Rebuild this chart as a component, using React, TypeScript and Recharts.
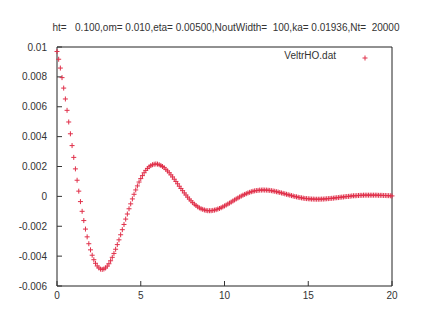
import React from 'react'
import { ScatterChart, Scatter, XAxis, YAxis, ReferenceArea } from 'recharts'

// velocity trace, one sample every 0.1 time units from t = 0 to t = 20
const xStep = 0.1
const velocity = [
  0.00970, 0.00918, 0.00859, 0.00795, 0.00725, 0.00652, 0.00576, 0.00498, 0.00419, 0.00340,
  0.00261, 0.00184, 0.00108, 0.00035, -0.00035, -0.00100, -0.00162, -0.00219, -0.00271, -0.00317,
  -0.00358, -0.00394, -0.00424, -0.00448, -0.00466, -0.00479, -0.00487, -0.00489, -0.00486, -0.00479,
  -0.00467, -0.00451, -0.00431, -0.00408, -0.00382, -0.00354, -0.00323, -0.00291, -0.00257, -0.00223,
  -0.00188, -0.00152, -0.00118, -0.00083, -0.00050, -0.00017, 0.00014, 0.00043, 0.00070, 0.00096,
  0.00119, 0.00139, 0.00158, 0.00174, 0.00187, 0.00198, 0.00206, 0.00212, 0.00215, 0.00217,
  0.00216, 0.00212, 0.00207, 0.00200, 0.00192, 0.00181, 0.00170, 0.00158, 0.00144, 0.00130,
  0.00115, 0.00100, 0.00084, 0.00068, 0.00053, 0.00038, 0.00023, 0.00009, -0.00005, -0.00018,
  -0.00030, -0.00042, -0.00052, -0.00061, -0.00070, -0.00077, -0.00083, -0.00087, -0.00091, -0.00094,
  -0.00096, -0.00096, -0.00096, -0.00094, -0.00092, -0.00089, -0.00085, -0.00081, -0.00076, -0.00070,
  -0.00064, -0.00058, -0.00051, -0.00045, -0.00038, -0.00031, -0.00024, -0.00017, -0.00011, -0.00004,
  0.00002, 0.00008, 0.00013, 0.00018, 0.00023, 0.00027, 0.00031, 0.00034, 0.00037, 0.00039,
  0.00040, 0.00042, 0.00042, 0.00043, 0.00042, 0.00042, 0.00041, 0.00040, 0.00038, 0.00036,
  0.00034, 0.00031, 0.00029, 0.00026, 0.00023, 0.00020, 0.00017, 0.00014, 0.00011, 0.00008,
  0.00005, 0.00002, -0.00001, -0.00003, -0.00006, -0.00008, -0.00010, -0.00012, -0.00014, -0.00015,
  -0.00016, -0.00017, -0.00018, -0.00018, -0.00019, -0.00019, -0.00019, -0.00019, -0.00018, -0.00018,
  -0.00017, -0.00016, -0.00015, -0.00014, -0.00013, -0.00012, -0.00010, -0.00009, -0.00008, -0.00006,
  -0.00005, -0.00004, -0.00002, -0.00001, 0.00000, 0.00001, 0.00003, 0.00004, 0.00004, 0.00005,
  0.00006, 0.00007, 0.00007, 0.00008, 0.00008, 0.00008, 0.00008, 0.00008, 0.00008, 0.00008,
  0.00008, 0.00008, 0.00007, 0.00007, 0.00007, 0.00006, 0.00006, 0.00005, 0.00005, 0.00004,
  0.00003,
]

const xTicks = [0, 5, 10, 15, 20]
const yTicks = [-0.006, -0.004, -0.002, 0, 0.002, 0.004, 0.006, 0.008, 0.01]
const seriesName = 'VeltrHO.dat'
const title = 'ht=   0.100,om= 0.010,eta= 0.00500,NoutWidth=  100,ka= 0.01936,Nt=  20000'

const data = velocity.map((v, i) => ({ t: Math.round(i * xStep * 10) / 10, v }))

const RED = '#e0304a'
const INK = '#333'
const font = 'Liberation Sans, Arial, sans-serif'

const Cross = (props: any) => {
  const { cx, cy } = props
  if (cx == null || cy == null) return null
  return <path d={`M${cx - 2.5},${cy}h5M${cx},${cy - 2.5}v5`} stroke={RED} strokeWidth={1} fill="none" />
}

const tickStyle = { fill: INK, fontSize: 10, fontFamily: font }
const blank = () => ''

export default function App() {
  return (
    <div style={{ position: 'absolute', left: 0, top: 0, width: 436, height: 327, background: '#fff' }}>
      <ScatterChart width={436} height={327} margin={{ top: 47, right: 44, bottom: 0, left: 0 }}>
        <XAxis
          xAxisId="b"
          type="number"
          dataKey="t"
          domain={[0, 20]}
          ticks={xTicks}
          height={41}
          tick={tickStyle}
          tickSize={-5}
          tickMargin={11}
          axisLine={false}
          tickLine={{ stroke: INK }}
        />
        <XAxis
          xAxisId="t"
          orientation="top"
          type="number"
          domain={[0, 20]}
          ticks={xTicks}
          height={0}
          tickFormatter={blank}
          tickSize={-5}
          axisLine={false}
          tickLine={{ stroke: INK }}
        />
        <YAxis
          yAxisId="l"
          type="number"
          dataKey="v"
          domain={[-0.006, 0.01]}
          ticks={yTicks}
          width={57}
          tick={tickStyle}
          tickSize={-5}
          tickMargin={15}
          tickFormatter={(v: number) => String(v)}
          axisLine={false}
          tickLine={{ stroke: INK }}
        />
        <YAxis
          yAxisId="r"
          orientation="right"
          type="number"
          domain={[-0.006, 0.01]}
          ticks={yTicks}
          width={0}
          tickFormatter={blank}
          tickSize={-5}
          axisLine={false}
          tickLine={{ stroke: INK }}
        />
        <ReferenceArea
          xAxisId="b"
          yAxisId="l"
          x1={0}
          x2={20}
          y1={-0.006}
          y2={0.01}
          fill="none"
          stroke="#222"
          strokeWidth={1}
          ifOverflow="visible"
        />
        <Scatter
          xAxisId="b"
          yAxisId="l"
          name={seriesName}
          data={data}
          shape={Cross}
          isAnimationActive={false}
        />
      </ScatterChart>
      <div
        style={{
          position: 'absolute',
          left: 0,
          width: 452,
          top: 22,
          textAlign: 'center',
          fontFamily: font,
          fontSize: 10,
          color: INK,
          whiteSpace: 'pre',
        }}
      >
        {title}
      </div>
      <div
        style={{
          position: 'absolute',
          left: 250,
          width: 86,
          top: 50,
          textAlign: 'right',
          fontFamily: font,
          fontSize: 10,
          color: INK,
        }}
      >
        {seriesName}
      </div>
      <svg style={{ position: 'absolute', left: 360, top: 53 }} width={10} height={10}>
        <path d="M2.5,5h5M5,2.5v5" stroke={RED} strokeWidth={1} />
      </svg>
    </div>
  )
}
